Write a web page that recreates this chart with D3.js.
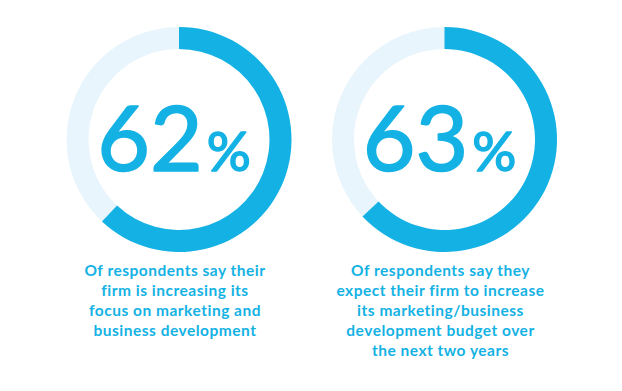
<!DOCTYPE html>
<html><head><meta charset="utf-8">
<script src="https://cdn.jsdelivr.net/npm/d3@7"></script>
<style>
html,body{margin:0;padding:0;background:#fff;}
svg{display:block;}
</style></head>
<body>
<svg id="chart" width="622" height="391"></svg>
<script>
const values = [62, 63];
const labels = ["62", "63"];
const captions = [
  ["Of respondents say their", "firm is increasing its", "focus on marketing and", "business development"],
  ["Of respondents say they", "expect their firm to increase", "its marketing/business", "development budget over", "the next two years"]
];

const blue = "#14b2e4", track = "#e9f5fc";
const svg = d3.select("#chart");

const x = d3.scalePoint().domain(d3.range(values.length)).range([179, 444.5]);
const angle = d3.scaleLinear().domain([0, 100]).range([0, 2 * Math.PI]);
const R = 112.5, r = 90.5, cy = 139.5;
const arc = d3.arc().innerRadius(r).outerRadius(R);

values.forEach((v, i) => {
  const cx = x(i);
  const g = svg.append("g").attr("transform", `translate(${cx},${cy})`);
  g.append("path").attr("d", arc({startAngle: 0, endAngle: 2 * Math.PI})).attr("fill", track);
  g.append("path").attr("d", arc({startAngle: 0, endAngle: angle(v)})).attr("fill", blue);
  const t = g.append("text").attr("x", -5).attr("y", 31)
    .attr("text-anchor", "middle").attr("fill", blue)
    .attr("stroke", blue).attr("stroke-width", 1.6).attr("stroke-linejoin", "round")
    .style("font-family", "Lato, sans-serif");
  t.append("tspan").text(labels[i]).style("font-size", "91px").style("font-weight", 400);
  t.append("tspan").text("%").attr("dx", 4).style("font-size", "55px").style("font-weight", 400);

  const c = svg.append("text").attr("text-anchor", "middle").attr("fill", blue)
    .style("font-family", "Lato, sans-serif").style("font-weight", 700)
    .style("font-size", "15.5px").style("letter-spacing", "0.5px");
  captions[i].forEach((line, j) => {
    c.append("tspan").attr("x", cx - 4).attr("y", 276 + j * 20).text(line);
  });
});
</script>
</body></html>
